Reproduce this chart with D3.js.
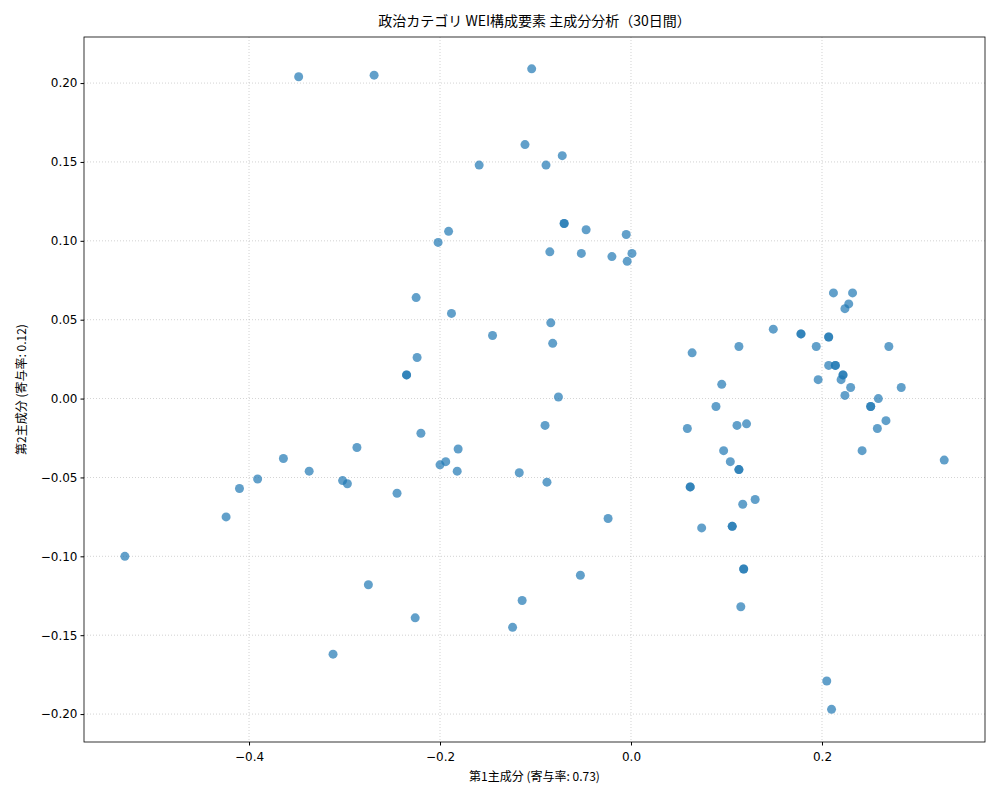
<!DOCTYPE html>
<html><head><meta charset="utf-8">
<script src="https://cdn.jsdelivr.net/npm/d3@7"></script>
<style>body{margin:0;background:#fff;font-family:"Noto Sans CJK JP","DejaVu Sans",sans-serif}</style>
</head><body><div id="chart"></div>
<script>
const pc1 = [-0.348,-0.269,-0.104,-0.111,-0.159,-0.089,-0.072,-0.070,-0.070,-0.047,-0.005,-0.191,-0.202,-0.085,-0.052,-0.020,0.001,-0.004,
  -0.225,-0.188,-0.145,-0.084,-0.082,-0.224,-0.235,-0.235,-0.076,-0.220,-0.090,-0.287,-0.181,-0.364,-0.337,-0.194,-0.200,-0.182,-0.117,
  -0.391,-0.302,-0.297,-0.088,-0.410,-0.245,-0.424,-0.024,-0.530,-0.053,-0.275,-0.114,-0.226,-0.124,-0.312,
  0.064,0.113,0.149,0.178,0.178,0.194,0.207,0.207,0.212,0.232,0.228,0.224,0.270,0.207,0.214,0.214,0.222,0.222,0.220,0.196,0.230,0.283,
  0.224,0.259,0.095,0.089,0.251,0.251,0.111,0.121,0.267,0.258,0.059,0.097,0.242,0.104,0.328,0.113,0.113,0.062,0.062,0.130,0.117,0.074,
  0.106,0.106,0.118,0.118,0.115,0.205,0.210]
const pc2 = [0.204,0.205,0.209,0.161,0.148,0.148,0.154,0.111,0.111,0.107,0.104,0.106,0.099,0.093,0.092,0.090,0.092,0.087,
  0.064,0.054,0.040,0.048,0.035,0.026,0.015,0.015,0.001,-0.022,-0.017,-0.031,-0.032,-0.038,-0.046,-0.040,-0.042,-0.046,-0.047,
  -0.051,-0.052,-0.054,-0.053,-0.057,-0.060,-0.075,-0.076,-0.100,-0.112,-0.118,-0.128,-0.139,-0.145,-0.162,
  0.029,0.033,0.044,0.041,0.041,0.033,0.039,0.039,0.067,0.067,0.060,0.057,0.033,0.021,0.021,0.021,0.015,0.015,0.012,0.012,0.007,0.007,
  0.002,0.000,0.009,-0.005,-0.005,-0.005,-0.017,-0.016,-0.014,-0.019,-0.019,-0.033,-0.033,-0.040,-0.039,-0.045,-0.045,-0.056,-0.056,-0.064,-0.067,-0.082,
  -0.081,-0.081,-0.108,-0.108,-0.132,-0.179,-0.197]
const xTicks = [-0.4,-0.2,0.0,0.2]
const yTicks = [-0.20,-0.15,-0.10,-0.05,0.00,0.05,0.10,0.15,0.20]

const W = 1000, H = 800, m = {left: 84, right: 15, top: 37, bottom: 58}
const svg = d3.select('#chart').append('svg').attr('width', W).attr('height', H)
const x = d3.scaleLinear().domain([-0.5728, 0.3707]).range([m.left, W - m.right])
const y = d3.scaleLinear().domain([-0.2177, 0.2292]).range([H - m.bottom, m.top])

svg.append('g').selectAll('line').data(xTicks).enter().append('line')
  .attr('x1', d => x(d)).attr('x2', d => x(d)).attr('y1', m.top).attr('y2', H - m.bottom)
  .attr('stroke', '#b0b0b0').attr('stroke-width', 0.8).attr('stroke-dasharray', '1,2').attr('opacity', 0.7)
svg.append('g').selectAll('line').data(yTicks).enter().append('line')
  .attr('y1', d => y(d)).attr('y2', d => y(d)).attr('x1', m.left).attr('x2', W - m.right)
  .attr('stroke', '#b0b0b0').attr('stroke-width', 0.8).attr('stroke-dasharray', '1,2').attr('opacity', 0.7)

svg.append('g').selectAll('circle').data(pc1).enter().append('circle')
  .attr('cx', d => x(d)).attr('cy', (d, i) => y(pc2[i])).attr('r', 4.5)
  .attr('fill', '#1f77b4').attr('fill-opacity', 0.7)

const fmtY = d3.format('.2f')
const gx = svg.append('g').attr('transform', `translate(0,${H - m.bottom})`)
  .call(d3.axisBottom(x).tickValues(xTicks).tickSize(3.5).tickFormat(d => d === 0 ? '0.0' : d3.format('.1f')(d).replace('-', '−')))
const gy = svg.append('g').attr('transform', `translate(${m.left},0)`)
  .call(d3.axisLeft(y).tickValues(yTicks).tickSize(3.5).tickFormat(d => fmtY(d).replace('-', '−')))
;[gx, gy].forEach(g => {
  g.select('.domain').remove()
  g.selectAll('text').attr('font-size', 12).attr('fill', '#000').attr('font-family', '"DejaVu Sans",sans-serif')
})
gx.selectAll('text').attr('dy', '1em')
svg.append('rect').attr('x', m.left).attr('y', m.top).attr('width', W - m.left - m.right)
  .attr('height', H - m.top - m.bottom).attr('fill', 'none').attr('stroke', '#000').attr('stroke-width', 0.8)

svg.append('text').attr('x', (m.left + W - m.right) / 2).attr('y', 26).attr('text-anchor', 'middle')
  .attr('font-size', 14).text('政治カテゴリ WEI構成要素 主成分分析（30日間）')
svg.append('text').attr('x', (m.left + W - m.right) / 2).attr('y', 781).attr('text-anchor', 'middle')
  .attr('font-size', 12).text('第1主成分 (寄与率: 0.73)')
svg.append('text').attr('transform', `translate(26,${(m.top + H - m.bottom) / 2}) rotate(-90)`)
  .attr('text-anchor', 'middle').attr('font-size', 12).text('第2主成分 (寄与率: 0.12)')
</script></body></html>
